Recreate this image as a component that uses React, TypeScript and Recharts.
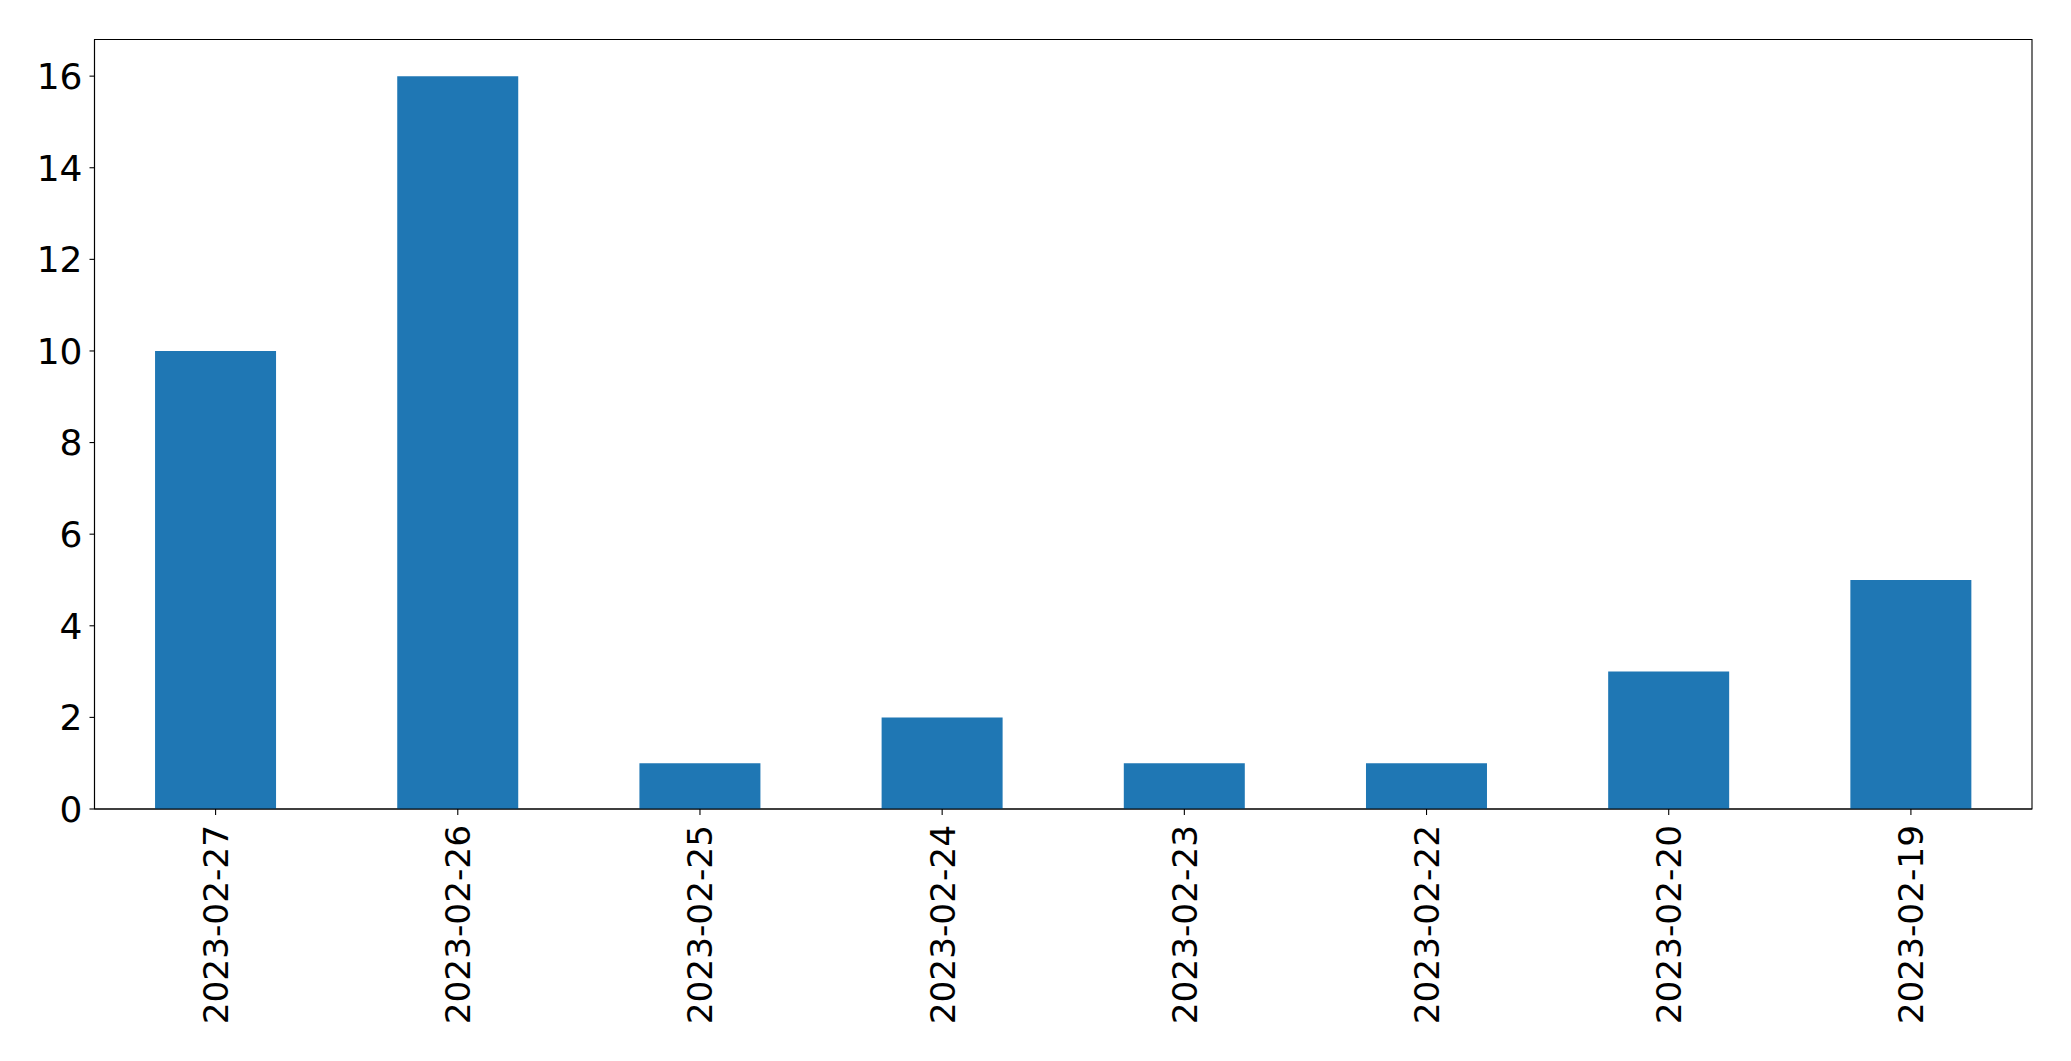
import React from 'react';
import { BarChart, Bar, XAxis, YAxis, ReferenceArea } from 'recharts';

const categories = ['2023-02-27', '2023-02-26', '2023-02-25', '2023-02-24', '2023-02-23', '2023-02-22', '2023-02-20', '2023-02-19'];
const counts = [10, 16, 1, 2, 1, 1, 3, 5];
const yTicks = [0, 2, 4, 6, 8, 10, 12, 14, 16];

const data = categories.map((c, i) => ({ date: c, count: counts[i] }));

const FONT = '"DejaVu Sans", sans-serif';

const XTick = (props: any) => {
  const { x, y, payload } = props;
  return (
    <text
      x={x}
      y={y}
      transform={`rotate(-90, ${x}, ${y})`}
      textAnchor="end"
      dy="0.36em"
      fontSize={34.3}
      fontFamily={FONT}
      fill="#000"
    >
      {payload.value}
    </text>
  );
};

export default function App() {
  return (
    <div style={{ position: 'absolute', left: 0, top: 0, width: 2071, height: 1061, background: '#fff' }}>
      <BarChart
        width={2071}
        height={1061}
        data={data}
        margin={{ top: 39.5, right: 39, left: 0, bottom: 0 }}
        barCategoryGap="25%"
      >
        <XAxis
          dataKey="date"
          height={252}
          tick={<XTick />}
          tickSize={6}
          tickMargin={10}
          interval={0}
          stroke="#000"
          axisLine={{ stroke: '#000', strokeWidth: 1.1 }}
          tickLine={{ stroke: '#000', strokeWidth: 1.1 }}
        />
        <YAxis
          width={94.5}
          domain={[0, 16.8]}
          ticks={yTicks}
          interval={0}
          tickSize={5}
          tickMargin={7}
          stroke="#000"
          tick={{ fontSize: 36, fontFamily: FONT, fill: '#000' }}
          axisLine={{ stroke: '#000', strokeWidth: 1.1 }}
          tickLine={{ stroke: '#000', strokeWidth: 1.1 }}
        />
        <Bar dataKey="count" fill="#1f77b4" isAnimationActive={false} />
        <ReferenceArea y1={0} y2={16.8} fill="none" fillOpacity={0} stroke="#000" strokeWidth={1.1} strokeOpacity={1} />
      </BarChart>
    </div>
  );
}
